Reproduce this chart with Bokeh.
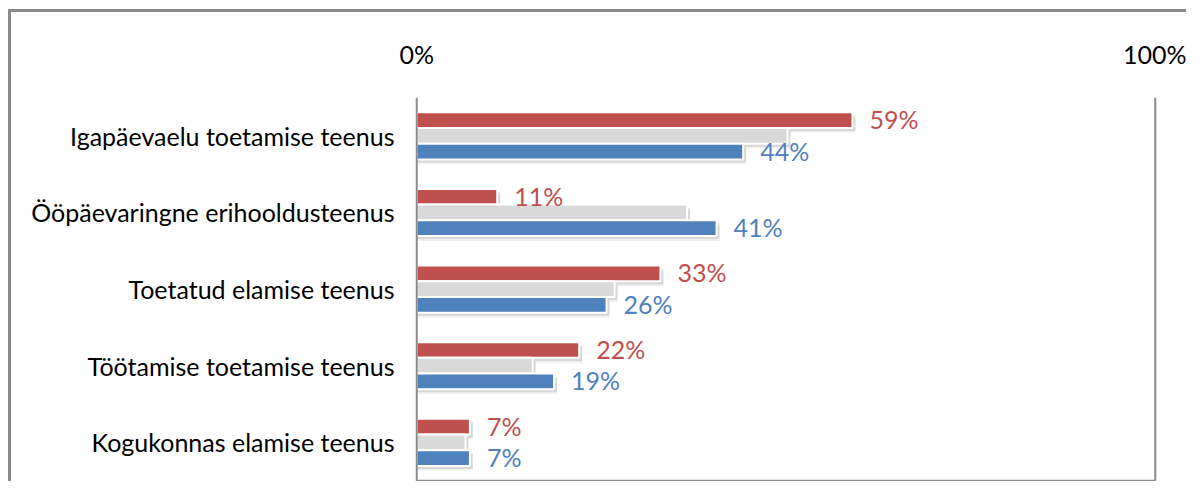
from bokeh.plotting import figure
from bokeh.models import ColumnDataSource, Range1d, FixedTicker, LabelSet
from bokeh.core.properties import value
from bokeh.embed import file_html
from bokeh.resources import INLINE

categories = ["Igapäevaelu toetamise teenus", "Ööpäevaringne erihooldusteenus",
              "Toetatud elamise teenus", "Töötamise toetamise teenus",
              "Kogukonnas elamise teenus"]
red_vals = [59.0, 10.9, 33.0, 22.0, 7.2]
gray_vals = [50.2, 36.6, 26.8, 15.7, 6.6]
blue_vals = [44.2, 40.6, 25.7, 18.6, 7.2]
x_ticks = [0, 100]
x_tick_labels = ["0%", "100%"]

RED = "#C0504D"
GRAY = "#D9D9D9"
BLUE = "#4F81BD"
FRAME = "#8a8a8a"
FONT = "Lato"

n = len(categories)
ypos = [n - i - 0.5 for i in range(n)]  # first category at the top
XMIN, XMAX = x_ticks[0], x_ticks[-1]

W, H = 1178, 472
p = figure(width=W, height=H, output_backend="svg", toolbar_location=None,
           x_range=Range1d(XMIN - 0.3, XMAX + 0.3), y_range=Range1d(-0.05, n),
           x_axis_location="above",
           min_border_left=403, min_border_right=32, min_border_top=85, min_border_bottom=0)
p.outline_line_color = None
p.xgrid.visible = False
p.ygrid.visible = False
p.background_fill_color = "white"
p.border_fill_color = "white"
p.styles = {"border-left": f"3px solid {FRAME}", "border-top": f"3px solid {FRAME}",
            "margin-left": "8px", "margin-top": "9px"}

step = 0.205
bh = 0.205
sh = 0.04
src = ColumnDataSource(dict(
    y=ypos, red=red_vals, gray=gray_vals, blue=blue_vals,
    red_sh=[v + 0.4 for v in red_vals], gray_sh=[v + 0.4 for v in gray_vals],
    blue_sh=[v + 0.4 for v in blue_vals],
    y_red=[y + step for y in ypos], y_gray=ypos, y_blue=[y - step for y in ypos],
    y_red_s1=[y + step - sh for y in ypos], y_gray_s1=[y - sh for y in ypos],
    y_blue_s1=[y - step - sh for y in ypos],
    y_red_s2=[y + step - 1.6 * sh for y in ypos], y_gray_s2=[y - 1.6 * sh for y in ypos],
    y_blue_s2=[y - step - 1.6 * sh for y in ypos],
    red_lbl=[f"{round(v)}%" for v in red_vals],
    blue_lbl=[f"{round(v)}%" for v in blue_vals],
))

# plot-area frame: right and bottom sides
p.segment(x0=[XMAX, XMIN], y0=[0, 0], x1=[XMAX, XMAX], y1=[n, 0],
          line_color=FRAME, line_width=2)

# shadows
for key in ("red", "gray", "blue"):
    p.hbar(y=f"y_{key}_s1", left=0, right=f"{key}_sh", height=bh, source=src,
           fill_color="black", fill_alpha=0.10, line_color=None)
    p.hbar(y=f"y_{key}_s2", left=0, right=f"{key}_sh", height=bh, source=src,
           fill_color="black", fill_alpha=0.06, line_color=None)
# bars
for key, col in (("red", RED), ("gray", GRAY), ("blue", BLUE)):
    p.hbar(y=f"y_{key}", left=0, right=key, height=bh, source=src,
           fill_color=col, line_color="white", line_width=2)

# left side of the frame, drawn above the bars' white outline
p.segment(x0=[XMIN], y0=[0], x1=[XMIN], y1=[n], line_color=FRAME, line_width=2)

for key, col in (("red", RED), ("blue", BLUE)):
    p.add_layout(LabelSet(x=key, y=f"y_{key}", text=f"{key}_lbl", source=src,
                          x_offset=17, y_offset=1, text_baseline="middle",
                          text_color=col, text_font=value(FONT), text_font_size="25px"))

xa = p.xaxis[0]
xa.ticker = FixedTicker(ticks=x_ticks)
xa.major_label_overrides = {t: l for t, l in zip(x_ticks, x_tick_labels)}
xa.axis_line_color = None
xa.major_tick_line_color = None
xa.minor_tick_line_color = None
xa.major_label_standoff = 23
xa.major_label_text_font = FONT
xa.major_label_text_font_size = "25px"
xa.major_label_text_color = "black"

ya = p.yaxis[0]
ya.ticker = FixedTicker(ticks=ypos)
ya.major_label_overrides = {y: c for y, c in zip(ypos, categories)}
ya.axis_line_color = None
ya.major_tick_line_color = None
ya.minor_tick_line_color = None
ya.major_label_standoff = 14
ya.major_label_text_font = FONT
ya.major_label_text_font_size = "25px"
ya.major_label_text_color = "black"

open("out.html", "w").write(file_html(p, INLINE))
